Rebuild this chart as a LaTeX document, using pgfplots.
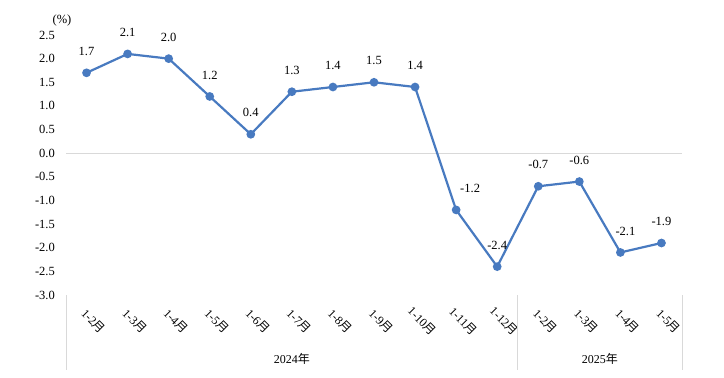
\documentclass[border=0pt]{standalone}
\usepackage{pgfplots}
\pgfplotsset{compat=1.18}
\usepackage{pgfplotstable}
\usepackage{fontspec}
\setmainfont{Liberation Serif}
\newfontfamily\cjk{Noto Sans CJK SC}
\newcommand\yue{{\cjk 月}}
\newcommand\nian{{\cjk 年}}
\definecolor{lineblue}{RGB}{72,122,192}
\definecolor{gridgray}{RGB}{217,217,217}
\pgfplotstableread{
x y dx
0 1.7 0
1 2.1 0
2 2.0 0
3 1.2 0
4 0.4 0
5 1.3 0
6 1.4 0
7 1.5 0
8 1.4 0
9 -1.2 14
10 -2.4 0
11 -0.7 0
12 -0.6 0
13 -2.1 5
14 -1.9 0
}\datatable
\begin{document}
\begin{tikzpicture}
\path[use as bounding box] (0pt,0pt) rectangle (724pt,378pt);
\begin{axis}[
  at={(66pt,83pt)}, anchor=south west,
  scale only axis, width=616pt, height=260pt,
  xmin=-0.5, xmax=14.5, ymin=-3, ymax=2.5,
  axis line style={draw=none},
  major tick length=0pt,
  clip=false,
  xtick={0,...,14},
  xticklabels={1-2\yue,1-3\yue,1-4\yue,1-5\yue,1-6\yue,1-7\yue,1-8\yue,1-9\yue,1-10\yue,1-11\yue,1-12\yue,1-2\yue,1-3\yue,1-4\yue,1-5\yue},
  xticklabel style={font=\fontsize{12}{13}\selectfont, inner sep=0pt, xshift=7pt, yshift=-26pt, rotate=-45, anchor=center},
  ytick={-3,-2.5,-2,-1.5,-1,-0.5,0,0.5,1,1.5,2,2.5},
  yticklabel style={font=\fontsize{12.5}{14}\selectfont, inner sep=0pt, xshift=-11pt, anchor=east,
    /pgf/number format/.cd, fixed, fixed zerofill, precision=1, assume math mode=true},
  extra y ticks={0},
  extra y tick labels={},
  extra y tick style={grid=major, major grid style={gridgray, line width=1pt}},
  nodes near coords,
  point meta=explicit,
  visualization depends on={\thisrow{dx} \as \dx},
  nodes near coords style={font=\fontsize{12.5}{14}\selectfont, text=black, inner sep=0pt, anchor=south, yshift=16pt, xshift=\dx pt,
    /pgf/number format/.cd, fixed, fixed zerofill, precision=1, assume math mode=true},
]
\addplot[lineblue, line width=2.2pt, mark=*, mark size=3.2pt, mark options={fill=lineblue}]
  table[x=x, y=y, meta=y] {\datatable};
\draw[gridgray, line width=1pt] (axis cs:-0.5,-3) -- ([yshift=-75pt]axis cs:-0.5,-3);
\draw[gridgray, line width=1pt] (axis cs:10.5,-3) -- ([yshift=-75pt]axis cs:10.5,-3);
\draw[gridgray, line width=1pt] (axis cs:14.5,-3) -- ([yshift=-75pt]axis cs:14.5,-3);
\node[font=\fontsize{12}{13}\selectfont] at ([yshift=-64pt]axis cs:5,-3) {2024\nian};
\node[font=\fontsize{12}{13}\selectfont] at ([yshift=-64pt]axis cs:12.5,-3) {2025\nian};
\node[font=\fontsize{12.5}{14}\selectfont] at ([xshift=-4pt, yshift=15pt]axis cs:-0.5,2.5) {(\%)};
\end{axis}
\end{tikzpicture}
\end{document}
